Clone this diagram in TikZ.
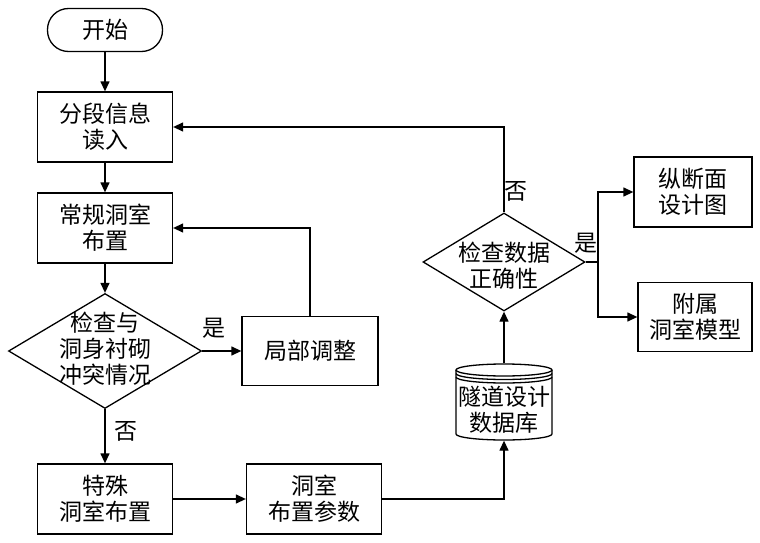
\documentclass[tikz,border=0pt]{standalone}
\usepackage{fontspec}
\newfontfamily\cjk{Noto Sans CJK SC}
\usetikzlibrary{shapes.geometric,arrows.meta,calc}
\begin{document}
\begin{tikzpicture}[x=1pt,y=-1pt,
  line width=1.3pt,
  font=\cjk\fontsize{23}{26}\selectfont,
  box/.style={draw,rectangle,align=center,inner sep=0pt},
  term/.style={draw,rectangle,rounded corners=21pt,minimum width=115pt,minimum height=43pt,inner sep=0pt},
  dia/.style={draw,diamond,inner sep=0pt},
  txt/.style={align=center,inner sep=0pt},
  arr/.style={-{Triangle[length=10pt,width=9pt]}},
]
\useasboundingbox (0,0) rectangle (760,543);

\node[term] (start) at (105,30) {开始};
\node[box,minimum width=135pt,minimum height=70pt] (read) at (105,127) {分段信息\\读入};
\node[box,minimum width=135pt,minimum height=70pt] (reg) at (105,228) {常规洞室\\布置};
\node[dia,minimum width=193pt,minimum height=115pt] (d1) at (105,351) {};
\node[txt] (d1t) at (105,349) {检查与\\洞身衬砌\\冲突情况};
\node[box,minimum width=136pt,minimum height=69pt] (adj) at (310,351) {局部调整};
\node[box,minimum width=135pt,minimum height=70pt] (spec) at (105,499) {特殊\\洞室布置};
\node[box,minimum width=135pt,minimum height=70pt] (par) at (314,499) {洞室\\布置参数};

\node[rectangle,minimum width=96pt,minimum height=76pt,inner sep=0pt] (db) at (504,402) {};
\begin{scope}[shift={(db.center)}]
  \draw (-48,-32) -- (-48,32) arc[start angle=180,end angle=360,x radius=48pt,y radius=6pt] -- (48,-32);
  \draw (0,-32) ellipse[x radius=48pt,y radius=6pt];
  \draw (-48,-28.5) arc[start angle=180,end angle=360,x radius=48pt,y radius=6pt];
  \draw (-48,-25) arc[start angle=180,end angle=360,x radius=48pt,y radius=6pt];
\end{scope}
\node[txt] (dbt) at (504,410) {隧道设计\\数据库};

\node[dia,minimum width=162pt,minimum height=98pt] (d2) at (504,262) {};
\node[txt] (d2t) at (504,266) {检查数据\\正确性};
\node[box,minimum width=118pt,minimum height=70pt] (prof) at (693,192) {纵断面\\设计图};
\node[box,minimum width=114pt,minimum height=69pt] (att) at (695,317) {附属\\洞室模型};

\node[txt] (y1) at (214,328) {是};
\node[txt] (n1) at (126,431) {否};
\node[txt] (n2) at (516,191) {否};
\node[txt] (y2) at (586,243) {是};

\draw[arr] (start.south) -- (read.north);
\draw[arr] (read.south) -- (reg.north);
\draw[arr] (reg.south) -- (d1.north);
\draw[arr] (d1.east) -- (adj.west);
\draw[arr] (adj.north) |- (reg.east);
\draw[arr] (d1.south) -- (spec.north);
\draw[arr] (spec.east) -- (par.west);
\draw[arr] (par.east) -| (db.south);
\draw[arr] (db.north) -- (d2.south);
\draw[arr] (d2.north) |- (read.east);
\coordinate (split) at (598,262);
\draw (d2.east) -- (split);
\draw[arr] (split) |- (prof.west);
\draw[arr] (split) |- (att.west);
\end{tikzpicture}
\end{document}
